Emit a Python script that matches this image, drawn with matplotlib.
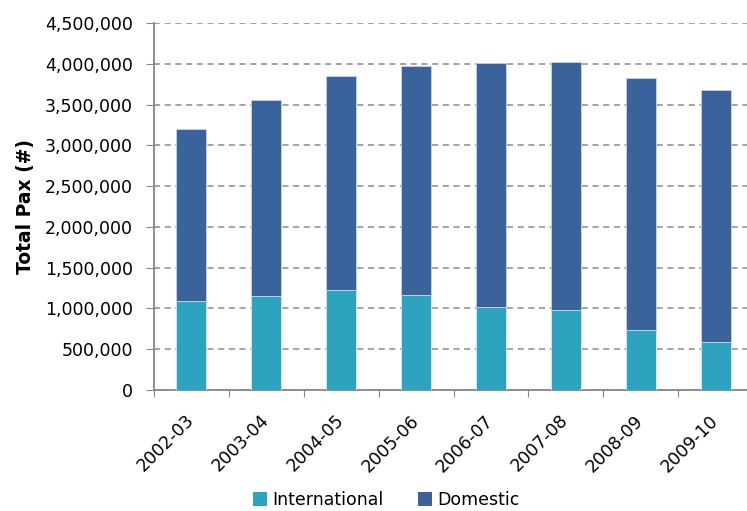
import matplotlib
matplotlib.use("Agg")
import matplotlib.pyplot as plt
from matplotlib.ticker import FuncFormatter, MultipleLocator
import numpy as np

years = ["2002-03", "2003-04", "2004-05", "2005-06", "2006-07", "2007-08", "2008-09", "2009-10"]
international = [1090000, 1150000, 1230000, 1167000, 1016000, 979000, 741000, 586000]
total = [3206000, 3559000, 3849000, 3968000, 4005000, 4026000, 3829000, 3677000]
domestic = [t - i for t, i in zip(total, international)]

plt.rcParams['font.family'] = ['DejaVu Sans']

fig = plt.figure(figsize=(7.47, 5.11), dpi=100)
W, H = 747, 511
left, right, top, bottom = 154, 753, 23, 390
ax = fig.add_axes([left / W, 1 - bottom / H, (right - left) / W, (bottom - top) / H])

x = np.arange(len(years))
c_int = "#2EA3C0"
c_dom = "#3A639B"
ax.bar(x, international, width=0.4, color=c_int, edgecolor="#dce8f0", linewidth=0.6, label="International", zorder=3)
ax.bar(x, domestic, width=0.4, bottom=international, color=c_dom, edgecolor="#c8d4e4", linewidth=0.6, label="Domestic", zorder=3)

ax.set_xlim(-0.5, 7.5)
ax.set_ylim(0, 4500000)
ax.yaxis.set_major_locator(MultipleLocator(500000))
ax.yaxis.set_major_formatter(FuncFormatter(lambda v, p: f"{int(v):,}"))
ax.grid(axis="y", color="#8c8c8c", linestyle=(0, (4, 3)), linewidth=1.1, zorder=0)
gl = ax.get_ygridlines()
if gl:
    gl[-1].set_color("#c0c0c0")

for s in ["top", "right"]:
    ax.spines[s].set_visible(False)
for s in ["left", "bottom"]:
    ax.spines[s].set_color("#868686")
    ax.spines[s].set_linewidth(1.3)

ax.set_xticks(np.arange(-0.5, 7.6, 1), minor=False)
ax.set_xticklabels([])
ax.set_xticks(x, minor=True)
ax.set_xticklabels(years, minor=True, rotation=45, ha="right", va="center",
                   rotation_mode="anchor", fontsize=12.5)
ax.tick_params(axis="x", which="minor", length=0, pad=20)
ax.tick_params(axis="x", which="major", length=5, color="#868686", direction="out")
ax.tick_params(axis="y", length=6, color="#868686", labelsize=12.5, pad=9)

ax.set_ylabel("Total Pax (#)", fontsize=13.5, fontweight="bold", labelpad=7)

leg = fig.legend(loc="center", bbox_to_anchor=(386 / W, 1 - 500 / H), ncol=2, frameon=False,
                 fontsize=12.5, handlelength=0.8, handleheight=0.8, handletextpad=0.3, columnspacing=2.0)
for h in leg.legend_handles:
    h.set_edgecolor("none")

fig.savefig("out.png", dpi=100)
